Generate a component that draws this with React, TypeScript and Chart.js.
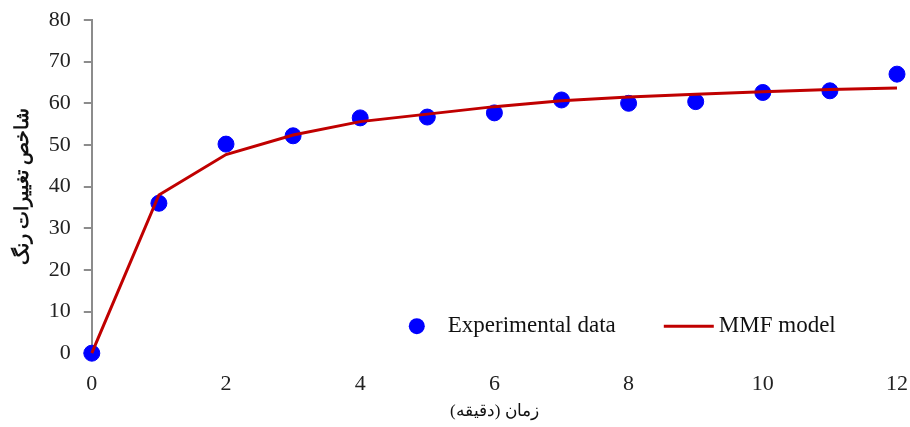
import React, { useEffect, useRef } from "react";
import { Chart, registerables } from "chart.js";

Chart.register(...registerables);

// Time (minutes)
const minutes = [0, 1, 2, 3, 4, 5, 6, 7, 8, 9, 10, 11, 12];
// Measured colour-change index
const experimental = [0, 36.0, 50.2, 52.2, 56.5, 56.7, 57.7, 60.8, 60.0, 60.4, 62.6, 63.0, 67.0];
// MMF model fit
const mmfModel = [0, 38.0, 47.7, 52.4, 55.6, 57.4, 59.2, 60.6, 61.5, 62.2, 62.8, 63.3, 63.7];

const xTicks = [0, 2, 4, 6, 8, 10, 12];
const yTicks = [0, 10, 20, 30, 40, 50, 60, 70, 80];

const seriesLabels = ["Experimental data", "MMF model"];
const xTitle = "زمان (دقیقه)";
const yTitle = "شاخص تغییرات رنگ";

const SERIF = "'Liberation Serif', 'Times New Roman', 'DejaVu Serif', serif";
const BLUE = "#0000FF";
const RED = "#C00000";

// Legend drawn inside the plot, lower right
const insideLegend = {
  id: "insideLegend",
  afterDraw(chart: any) {
    const { ctx, chartArea } = chart;
    const y = chartArea.bottom - 27;
    const dotX = chartArea.left + 325;
    ctx.save();
    ctx.fillStyle = BLUE;
    ctx.beginPath();
    ctx.arc(dotX, y, 8, 0, Math.PI * 2);
    ctx.fill();
    ctx.font = `23px ${SERIF}`;
    ctx.fillStyle = "#111";
    ctx.textBaseline = "middle";
    ctx.textAlign = "left";
    ctx.fillText(seriesLabels[0], dotX + 31, y);
    const lineX = dotX + 247;
    ctx.strokeStyle = RED;
    ctx.lineWidth = 3;
    ctx.beginPath();
    ctx.moveTo(lineX, y);
    ctx.lineTo(lineX + 50, y);
    ctx.stroke();
    ctx.fillText(seriesLabels[1], lineX + 55, y);
    ctx.restore();
  },
};

export default function App() {
  const canvasRef = useRef<HTMLCanvasElement | null>(null);

  useEffect(() => {
    if (!canvasRef.current) return;
    const chart = new Chart(canvasRef.current, {
      type: "scatter",
      data: {
        datasets: [
          {
            label: seriesLabels[0],
            data: minutes.map((m, i) => ({ x: m, y: experimental[i] })),
            backgroundColor: BLUE,
            borderColor: BLUE,
            pointRadius: 8,
            pointHoverRadius: 8,
            showLine: false,
            order: 2,
            clip: false,
          },
          {
            label: seriesLabels[1],
            data: minutes.map((m, i) => ({ x: m, y: mmfModel[i] })),
            borderColor: RED,
            backgroundColor: RED,
            borderWidth: 3,
            pointRadius: 0,
            showLine: true,
            tension: 0,
            order: 1,
            clip: false,
          },
        ],
      },
      options: {
        animation: false,
        responsive: true,
        maintainAspectRatio: false,
        layout: { autoPadding: false, padding: { top: 20, right: 13, left: 12, bottom: 0 } },
        plugins: {
          legend: { display: false },
          tooltip: { enabled: false },
        },
        scales: {
          x: {
            type: "linear",
            min: 0,
            max: 12,
            afterBuildTicks: (axis: any) => {
              axis.ticks = xTicks.map((v) => ({ value: v }));
            },
            afterFit: (axis: any) => {
              axis.paddingLeft = 0;
              axis.paddingRight = 0;
            },
            grid: { display: true, drawOnChartArea: false, drawTicks: false },
            border: { display: false },
            ticks: {
              padding: 18,
              color: "#222",
              font: { family: SERIF, size: 22 },
            },
            title: {
              display: true,
              text: xTitle,
              color: "#111",
              font: { family: SERIF, size: 17 },
              padding: { top: -14, bottom: 5 },
            },
          },
          y: {
            min: 0,
            max: 80,
            afterBuildTicks: (axis: any) => {
              axis.ticks = yTicks.map((v) => ({ value: v }));
            },
            afterFit: (axis: any) => {
              axis.paddingTop = 0;
              axis.paddingBottom = 0;
            },
            grid: {
              display: true,
              drawOnChartArea: false,
              drawTicks: true,
              tickLength: 8,
              color: "#8c8c8c",
              lineWidth: 2,
            },
            border: { display: true, color: "#8c8c8c", width: 2 },
            ticks: {
              padding: 13,
              color: "#222",
              font: { family: SERIF, size: 22 },
            },
            title: {
              display: true,
              text: yTitle,
              color: "#111",
              font: { family: SERIF, size: 19, weight: "bold" },
              padding: { top: 0, bottom: 1 },
            },
          },
        },
      },
      plugins: [insideLegend],
    });
    return () => chart.destroy();
  }, []);

  return (
    <div style={{ position: "absolute", left: 0, top: 0, width: 910, height: 427, background: "#fff" }}>
      <canvas ref={canvasRef} />
    </div>
  );
}
